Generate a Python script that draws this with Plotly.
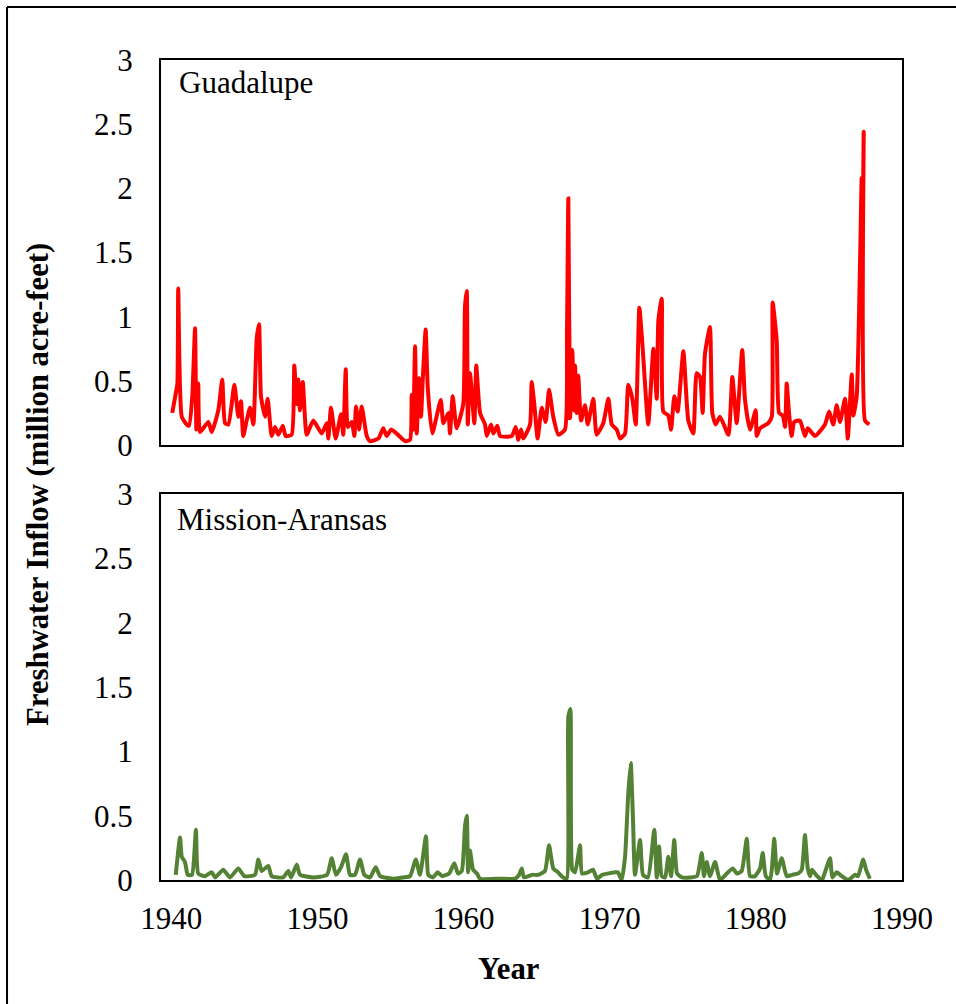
import plotly.graph_objects as go

# Guadalupe estuary inflow (million acre-feet)
guad_year = [1940.07, 1940.31, 1940.42, 1940.48, 1940.72, 1941.06, 1941.22, 1941.44, 1941.63, 1941.72,
             1941.85, 1941.97, 1942.54, 1942.77, 1943.22, 1943.49, 1943.68, 1943.91, 1944.32, 1944.59,
             1944.77, 1944.93, 1945.16, 1945.39, 1945.62, 1945.85, 1946.01, 1946.14, 1946.42, 1946.60,
             1946.87, 1947.10, 1947.33, 1947.63, 1947.83, 1948.24, 1948.42, 1948.59, 1948.69, 1948.81,
             1949.00, 1949.27, 1949.72, 1950.30, 1950.64, 1950.75, 1950.93, 1951.25, 1951.62, 1951.77,
             1951.94, 1952.08, 1952.35, 1952.53, 1952.64, 1952.85, 1953.03, 1953.38, 1953.60, 1954.17,
             1954.51, 1954.74, 1955.04, 1955.31, 1955.88, 1956.00, 1956.34, 1956.45, 1956.56, 1956.68,
             1956.80, 1956.95, 1957.09, 1957.21, 1957.41, 1957.55, 1957.86, 1958.44, 1958.62, 1958.96,
             1959.07, 1959.26, 1959.53, 1959.98, 1960.10, 1960.22, 1960.29, 1960.44, 1960.74, 1960.87,
             1961.13, 1961.47, 1961.59, 1961.88, 1962.04, 1962.31, 1962.50, 1963.30, 1963.57, 1963.75,
             1963.93, 1964.09, 1964.55, 1964.66, 1964.84, 1965.07, 1965.35, 1965.62, 1965.85, 1966.14,
             1966.49, 1966.94, 1967.08, 1967.17, 1967.29, 1967.44, 1967.56, 1967.63, 1967.74, 1967.85,
             1968.04, 1968.31, 1968.50, 1968.88, 1969.11, 1969.56, 1969.91, 1970.14, 1970.48, 1970.71,
             1971.05, 1971.27, 1971.55, 1971.78, 1972.03, 1972.23, 1972.64, 1972.99, 1973.22, 1973.33,
             1973.56, 1973.67, 1974.01, 1974.20, 1974.42, 1974.65, 1975.04, 1975.38, 1975.72, 1975.95,
             1976.18, 1976.36, 1976.52, 1976.86, 1977.02, 1977.25, 1977.55, 1978.12, 1978.39, 1978.69,
             1979.07, 1979.26, 1979.60, 1979.99, 1980.06, 1980.29, 1980.85, 1981.09, 1981.15, 1981.43,
             1981.59, 1981.84, 1982.00, 1982.11, 1982.27, 1982.45, 1982.63, 1983.02, 1983.36, 1983.55,
             1984.05, 1984.73, 1985.01, 1985.30, 1985.53, 1985.76, 1986.10, 1986.29, 1986.56, 1986.67,
             1986.90, 1987.15, 1987.24, 1987.31, 1987.38, 1987.47, 1987.76]
guad_flow = [0.25, 0.40, 0.48, 1.22, 0.22, 0.16, 0.15, 0.38, 0.91, 0.12,
             0.48, 0.10, 0.18, 0.10, 0.27, 0.51, 0.17, 0.16, 0.47, 0.22,
             0.34, 0.07, 0.19, 0.29, 0.16, 0.83, 0.94, 0.38, 0.22, 0.36,
             0.07, 0.14, 0.08, 0.15, 0.07, 0.08, 0.62, 0.32, 0.51, 0.27,
             0.49, 0.08, 0.19, 0.09, 0.17, 0.05, 0.29, 0.05, 0.24, 0.08,
             0.59, 0.14, 0.18, 0.07, 0.30, 0.12, 0.30, 0.07, 0.03, 0.05,
             0.13, 0.07, 0.12, 0.10, 0.04, 0.03, 0.04, 0.39, 0.12, 0.77,
             0.09, 0.52, 0.22, 0.51, 0.90, 0.45, 0.09, 0.35, 0.17, 0.25,
             0.09, 0.38, 0.13, 0.32, 1.08, 1.20, 0.16, 0.56, 0.17, 0.62,
             0.25, 0.16, 0.07, 0.16, 0.09, 0.15, 0.07, 0.07, 0.14, 0.04,
             0.12, 0.05, 0.16, 0.49, 0.32, 0.05, 0.29, 0.18, 0.43, 0.22,
             0.08, 0.12, 0.90, 1.92, 0.21, 0.74, 0.27, 0.62, 0.25, 0.54,
             0.19, 0.31, 0.16, 0.36, 0.08, 0.17, 0.36, 0.16, 0.12, 0.05,
             0.09, 0.47, 0.36, 0.16, 1.07, 0.80, 0.16, 0.75, 0.36, 0.97,
             1.14, 0.26, 0.23, 0.12, 0.38, 0.26, 0.73, 0.19, 0.09, 0.56,
             0.53, 0.25, 0.71, 0.92, 0.25, 0.16, 0.22, 0.08, 0.53, 0.17,
             0.74, 0.35, 0.12, 0.27, 0.07, 0.13, 0.17, 0.22, 1.11, 0.81,
             0.25, 0.23, 0.14, 0.48, 0.25, 0.07, 0.18, 0.19, 0.07, 0.13,
             0.07, 0.16, 0.26, 0.16, 0.31, 0.18, 0.36, 0.05, 0.55, 0.23,
             0.38, 1.55, 2.08, 1.70, 2.44, 0.19, 0.16]

# Mission-Aransas estuary inflow (million acre-feet)
mission_year = [1940.31, 1940.60, 1940.72, 1940.94, 1941.13, 1941.42, 1941.69, 1941.85, 1942.31, 1942.77,
                1943.00, 1943.56, 1944.02, 1944.59, 1945.00, 1945.73, 1945.96, 1946.19, 1946.64, 1946.87,
                1947.65, 1948.01, 1948.20, 1948.59, 1948.81, 1949.72, 1950.66, 1950.98, 1951.27, 1951.62,
                1951.96, 1952.23, 1952.57, 1952.92, 1953.21, 1953.60, 1953.99, 1954.29, 1955.17, 1955.86,
                1956.34, 1956.73, 1957.02, 1957.43, 1957.59, 1957.91, 1958.23, 1958.53, 1959.01, 1959.37,
                1959.62, 1959.88, 1960.10, 1960.22, 1960.31, 1960.44, 1960.65, 1960.92, 1961.13, 1962.50,
                1963.52, 1963.80, 1963.98, 1964.14, 1964.69, 1965.10, 1965.57, 1965.85, 1966.14, 1966.46,
                1966.81, 1967.06, 1967.17, 1967.31, 1967.44, 1967.63, 1967.97, 1968.11, 1968.52, 1968.86,
                1969.13, 1969.48, 1970.36, 1970.56, 1970.82, 1971.05, 1971.27, 1971.44, 1971.60, 1971.73,
                1972.08, 1972.28, 1972.62, 1973.05, 1973.22, 1973.38, 1973.56, 1973.79, 1974.01, 1974.20,
                1974.42, 1974.61, 1974.95, 1975.50, 1975.97, 1976.30, 1976.45, 1976.64, 1976.86, 1977.21,
                1977.55, 1978.01, 1978.42, 1978.71, 1979.03, 1979.38, 1979.60, 1979.94, 1980.29, 1980.47,
                1980.68, 1980.97, 1981.09, 1981.26, 1981.45, 1981.77, 1982.11, 1982.48, 1982.89, 1983.14,
                1983.36, 1983.55, 1983.71, 1983.84, 1984.19, 1984.53, 1984.73, 1985.08, 1985.23, 1985.53,
                1985.88, 1986.31, 1986.79, 1986.99, 1987.35, 1987.54, 1987.80]
mission_flow = [0.04, 0.33, 0.18, 0.14, 0.04, 0.04, 0.39, 0.05, 0.03, 0.06,
                0.02, 0.08, 0.02, 0.09, 0.03, 0.04, 0.16, 0.07, 0.11, 0.03,
                0.02, 0.07, 0.02, 0.12, 0.04, 0.02, 0.04, 0.17, 0.04, 0.10,
                0.20, 0.04, 0.04, 0.16, 0.04, 0.02, 0.10, 0.03, 0.01, 0.02,
                0.03, 0.16, 0.04, 0.34, 0.04, 0.02, 0.06, 0.03, 0.05, 0.13,
                0.05, 0.07, 0.42, 0.50, 0.06, 0.23, 0.08, 0.05, 0.01, 0.01,
                0.01, 0.04, 0.09, 0.02, 0.04, 0.04, 0.07, 0.27, 0.09, 0.06,
                0.02, 0.01, 1.27, 1.33, 0.08, 0.06, 0.27, 0.05, 0.06, 0.08,
                0.01, 0.04, 0.06, 0.06, 0.00, 0.18, 0.67, 0.91, 0.45, 0.04,
                0.31, 0.04, 0.02, 0.39, 0.02, 0.26, 0.03, 0.02, 0.18, 0.03,
                0.31, 0.05, 0.02, 0.02, 0.03, 0.21, 0.03, 0.14, 0.03, 0.14,
                0.00, 0.05, 0.09, 0.05, 0.07, 0.32, 0.03, 0.03, 0.09, 0.21,
                0.03, 0.00, 0.08, 0.32, 0.05, 0.17, 0.03, 0.04, 0.05, 0.08,
                0.35, 0.09, 0.03, 0.08, 0.03, 0.00, 0.06, 0.17, 0.02, 0.06,
                0.03, 0.00, 0.04, 0.03, 0.16, 0.08, 0.01]

x_ticks = [1940, 1950, 1960, 1970, 1980, 1990]
y_ticks = [0, 0.5, 1, 1.5, 2, 2.5, 3]
y_tick_text = ["0", "0.5", "1", "1.5", "2", "2.5", "3"]

SERIF = "Liberation Serif, Times New Roman, serif"

fig = go.Figure()
fig.add_trace(go.Scatter(x=guad_year, y=guad_flow, mode="lines",
                         line=dict(color="#FF0000", width=4, shape="spline", smoothing=0.5),
                         xaxis="x2", yaxis="y2", showlegend=False))
fig.add_trace(go.Scatter(x=mission_year, y=mission_flow, mode="lines",
                         line=dict(color="#548235", width=4, shape="spline", smoothing=0.5),
                         xaxis="x", yaxis="y", showlegend=False))

axis_common = dict(showgrid=False, zeroline=False, showline=True, linecolor="black",
                   linewidth=2, mirror=True, ticks="")
xr = [1939.3, 1990]
fig.update_layout(
    width=956, height=1004,
    margin=dict(l=161, r=54, t=60, b=124),
    paper_bgcolor="white", plot_bgcolor="white",
    font=dict(family=SERIF, size=31, color="black"),
    xaxis=dict(domain=[0, 1], anchor="y", range=xr, tickvals=x_ticks,
               ticktext=[str(v) for v in x_ticks], ticklabelstandoff=10, **axis_common),
    yaxis=dict(domain=[0, 0.4707], anchor="x", range=[0, 3], tickvals=y_ticks,
               ticktext=y_tick_text, ticklabelstandoff=20, **axis_common),
    xaxis2=dict(domain=[0, 1], anchor="y2", range=xr, showticklabels=False, **axis_common),
    yaxis2=dict(domain=[0.5305, 1], anchor="x2", range=[0, 3], tickvals=y_ticks,
                ticktext=y_tick_text, ticklabelstandoff=20, **axis_common),
)

fig.add_annotation(text="Guadalupe", xref="paper", yref="paper", x=0.0216, y=0.973,
                   xanchor="left", yanchor="middle", showarrow=False,
                   font=dict(family=SERIF, size=31, color="black"))
fig.add_annotation(text="Mission-Aransas", xref="paper", yref="paper", x=0.0189, y=0.440,
                   xanchor="left", yanchor="middle", showarrow=False,
                   font=dict(family=SERIF, size=31, color="black"))
fig.add_annotation(text="<b>Freshwater Inflow (million acre-feet)</b>", xref="paper", yref="paper",
                   x=-0.166, y=0.483, xanchor="center", yanchor="middle", textangle=-90,
                   showarrow=False, font=dict(family=SERIF, size=30.7, color="black"))
fig.add_annotation(text="<b>Year</b>", xref="paper", yref="paper", x=0.4696, y=-0.1085,
                   xanchor="center", yanchor="middle", showarrow=False,
                   font=dict(family=SERIF, size=30.7, color="black"))

# outer chart border: only the left and top edges fall inside the picture
border_x = -0.2078
border_y = 1.0646
fig.add_shape(type="line", xref="paper", yref="paper", x0=border_x, x1=1.0729,
              y0=border_y, y1=border_y, line=dict(color="black", width=2))
fig.add_shape(type="line", xref="paper", yref="paper", x0=border_x, x1=border_x,
              y0=-0.1512, y1=border_y, line=dict(color="black", width=2))

# remove the browser's default page margin so the figure fills the window exactly
fig.write_html("out.html", config={"displayModeBar": False},
               post_script="document.body.style.margin='0';document.body.style.overflow='hidden';")
